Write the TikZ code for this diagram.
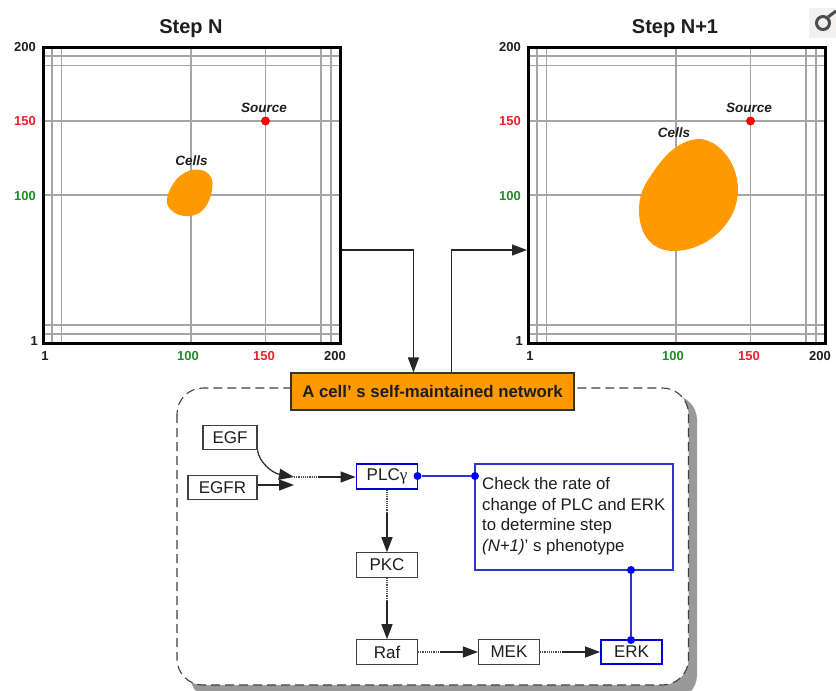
\documentclass[tikz,border=0pt]{standalone}
\usepackage{fontspec}
\setmainfont{Liberation Sans}
\newfontfamily\serifgr{Liberation Serif}
\usetikzlibrary{arrows.meta,calc}
\definecolor{cellorange}{RGB}{255,153,0}
\definecolor{gridgray}{RGB}{165,165,165}
\definecolor{labred}{RGB}{240,30,40}
\definecolor{labgreen}{RGB}{30,140,40}
\definecolor{linkblue}{RGB}{50,50,200}
\definecolor{txt}{RGB}{30,30,30}
\tikzset{
  x=1pt,y=-1pt,
  gridline/.style={gridgray,line width=1.7pt},
  frameline/.style={black,line width=3pt},
  ticklab/.style={font=\fontsize{13}{13}\selectfont\bfseries,text=txt,inner sep=0pt},
  steptitle/.style={font=\fontsize{20}{21}\selectfont\bfseries,text=txt,inner sep=0pt},
  itlab/.style={font=\fontsize{13.5}{14}\selectfont\bfseries\itshape,text=txt,inner sep=0pt},
  srcdot/.style={circle,fill=red,inner sep=0pt,minimum size=9pt},
  protein/.style={draw=black!75,line width=1.1pt,fill=white,inner sep=0pt,minimum height=24.5pt,
    font=\fontsize{17}{18}\selectfont,text=txt},
  activeprotein/.style={protein,draw=blue!85!black,line width=1.8pt},
  flow/.style={black!85,line width=1.2pt,-{Triangle[length=15pt,width=11pt]}},
  flowdot/.style={black!70,line width=1.2pt,densely dotted},
  bigflow/.style={black!85,line width=1.2pt,-{Triangle[length=15pt,width=11pt]}},
  bluelink/.style={linkblue,line width=1.2pt},
  bluedot/.style={circle,fill=blue,inner sep=0pt,minimum size=8pt},
}
\newcommand{\plotgrid}{%
  \foreach \g in {9,18.5,148,222.5,278,288}{
    \draw[gridline] (43+\g,47) -- (43+\g,343);
  }
  \foreach \g in {56,65.5,121,195,325,334}{
    \draw[gridline] (43,\g) -- (340,\g);
  }
}
\newcommand{\plotlabels}{%
  \node[ticklab,anchor=east] at (36,47) {200};
  \node[ticklab,anchor=east,text=labred] at (36,121) {150};
  \node[ticklab,anchor=east,text=labgreen] at (36,196) {100};
  \node[ticklab,anchor=east] at (38,341) {1};
  \node[ticklab] at (45,356) {1};
  \node[ticklab,text=labgreen] at (188,356.5) {100};
  \node[ticklab,text=labred] at (264,356.5) {150};
  \node[ticklab] at (335,356.5) {200};
}
\begin{document}
\begin{tikzpicture}
\useasboundingbox (0,0) rectangle (836,691);
\clip (0,0) rectangle (836,691);

% --- Step N
\plotgrid
\fill[cellorange] (195,169.5) .. controls (203,169) and (212,173) .. (212.5,183)
  .. controls (213,192) and (209,206) .. (200,212.5)
  .. controls (192,218) and (176,218) .. (168.5,207)
  .. controls (164,200) and (170,187) .. (176,180)
  .. controls (181,174) and (188,170) .. (195,169.5) -- cycle;
\draw[frameline] (43,47) rectangle (340,343);
\node[srcdot] (srcA) at (265.5,121) {};
\node[itlab] (srcAlab) at (264,108) {Source};
\node[itlab] (cellsA) at (191.5,161) {Cells};
\node[steptitle] (titleA) at (191,29) {Step N};
\plotlabels

% --- Step N+1
\begin{scope}[xshift=485pt]
\plotgrid
\end{scope}
\fill[cellorange] (699,139) .. controls (716,139) and (738,160) .. (738,190)
  .. controls (738,222) and (708,251) .. (673,251)
  .. controls (655,251) and (639,238) .. (639,210)
  .. controls (639,198) and (642,188) .. (650,177)
  .. controls (661,160) and (676,140) .. (699,139) -- cycle;
\begin{scope}[xshift=485pt]
\draw[frameline] (43,47) rectangle (340,343);
\node[srcdot] (srcB) at (265.5,121) {};
\node[itlab] (srcBlab) at (264,108) {Source};
\node[itlab] (cellsB) at (189,133) {Cells};
\node[steptitle] (titleB) at (190,29) {Step N+1};
\plotlabels
\end{scope}
\coordinate (frameAout) at (341.5,250);
\coordinate (frameBin) at (527,250);

% --- corner icon
\fill[orange!15!black!6] (809,8) rectangle (836,38);
\draw[black!70,line width=3pt] (823,23) circle (6.5pt);
\draw[black!70,line width=3pt] (828,17) -- (836,11);

% --- network panel
\fill[black!40,rounded corners=25pt] (190,395) rectangle (697,700);
\draw[dashed,dash pattern=on 9pt off 5pt,black!75,line width=1.1pt,fill=white,rounded corners=26pt] (177,388) rectangle (688.5,685);
\node[draw=black!80,line width=1.1pt,fill=cellorange,minimum width=283pt,minimum height=37pt,inner sep=0pt,
  font=\fontsize{16.8}{18}\selectfont\bfseries,text=txt] (net) at (432.5,391.5) {A cell’ s self-maintained network};

\draw[bigflow] (frameAout) -| ($(net.north west)+(123,0)$);
\draw[bigflow] ($(net.north west)+(161,0)$) |- (frameBin);

% --- proteins
\node[protein,minimum width=54pt] (egf) at (230,437.5) {EGF};
\node[protein,minimum width=69pt] (egfr) at (222.5,487.5) {EGFR};
\node[activeprotein,minimum width=61pt] (plc) at (387,476.5) {PLC{\serifgr γ}};
\node[protein,minimum width=61pt] (pkc) at (387,565) {PKC};
\node[protein,minimum width=61pt] (raf) at (387,652) {Raf};
\node[protein,minimum width=61pt] (mek) at (509,652) {MEK};
\node[activeprotein,minimum width=61pt] (erk) at (631.5,652) {ERK};
\node[draw=linkblue,line width=1.1pt,fill=white,minimum width=198pt,minimum height=106pt,inner sep=0pt] (check) at (574,517) {};
\node[anchor=north west,inner sep=0pt,align=left,text=txt,font=\fontsize{16.8}{20.8}\selectfont] (checktxt) at (482,477)
  {Check the rate of\\change of PLC and ERK\\to determine step\\\textit{(N+1)}’ s phenotype};

% --- signalling flows
\coordinate (join) at (294,477);
\coordinate (joinb) at (318,477);
\draw[flow] (egf.south east) .. controls (259,462) and (272,473) .. (join);
\draw[flow] (egfr.east |- 0,485) -- (294,485);
\draw[flowdot] (join) -- (joinb);
\draw[flow] (joinb) -- (plc.west |- joinb);
\coordinate (pa) at (387,513);
\draw[flowdot] (plc.south) -- (pa);
\draw[flow] (pa) -- (pkc.north);
\coordinate (pb) at (387,601);
\draw[flowdot] (pkc.south) -- (pb);
\draw[flow] (pb) -- (raf.north);
\coordinate (ra) at (440,652);
\draw[flowdot] (raf.east) -- (ra);
\draw[flow] (ra) -- (mek.west);
\coordinate (ma) at (562,652);
\draw[flowdot] (mek.east) -- (ma);
\draw[flow] (ma) -- (erk.west);

% --- blue links
\node[bluedot] (d1) at (417.5,476) {};
\node[bluedot] (d2) at (475,476) {};
\node[bluedot] (d3) at (631,570) {};
\node[bluedot] (d4) at (631,640) {};
\draw[bluelink] (d1) -- (d2);
\draw[bluelink] (d3) -- (d4);
\end{tikzpicture}
\end{document}
